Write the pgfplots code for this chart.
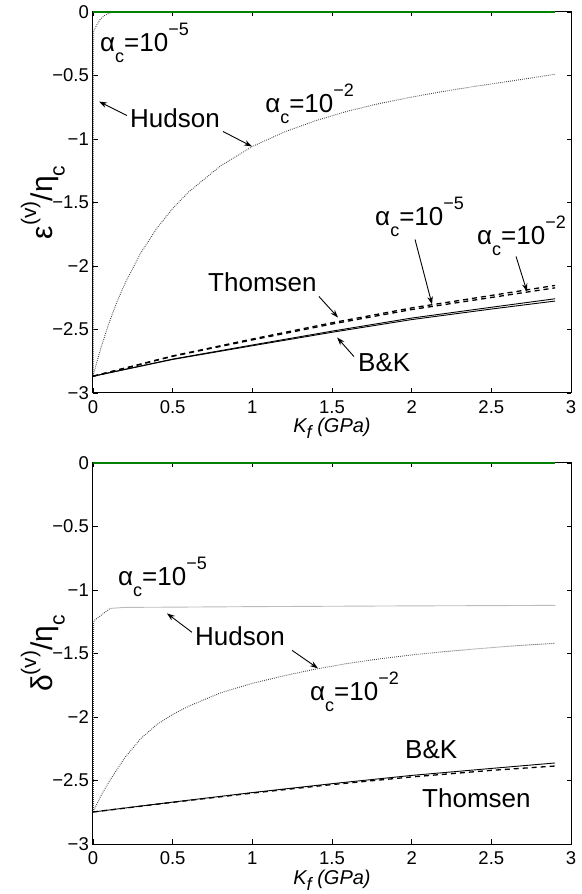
\documentclass[border=0pt]{standalone}
\usepackage{pgfplots}
\pgfplotsset{compat=1.18}
\usetikzlibrary{arrows.meta}
\usepackage{fontspec}
\setmainfont{Liberation Sans}

\newcommand\sm{\fontsize{18}{18}\selectfont}
\newcommand\smy{\fontsize{21}{21}\selectfont}
\newcommand\lab{\fontsize{26}{28}\selectfont}
\newcommand\alc[1]{α\raisebox{-0.42em}{\sm c}=10\raisebox{0.62em}{\sm −#1}}

\definecolor{mgreen}{rgb}{0,0.5,0}

\tikzset{
 hud/.style={black!75, line width=0.9pt, dash pattern=on 0.8pt off 1.2pt},
 thom/.style={black, line width=1.3pt, dash pattern=on 5pt off 4pt},
 bk/.style={black, line width=0.9pt},
 zer/.style={mgreen, line width=1.1pt},
 arr/.style={-{Stealth[length=8pt,width=5.5pt]}, line width=0.9pt},
 txt/.style={anchor=base west, font=\lab, inner sep=0pt},
}

\pgfplotsset{
 mystyle/.style={
  scale only axis, width=478pt, height=381pt,
  xmin=0,xmax=3,ymin=-3,ymax=0,
  xtick={0,0.5,1,1.5,2,2.5,3}, xticklabels={0,0.5,1,1.5,2,2.5,3},
  ytick={-3,-2.5,-2,-1.5,-1,-0.5,0}, yticklabels={−3,−2.5,−2,−1.5,−1,−0.5,0},
  tick align=inside, major tick length=4.5pt, tick style={black, line width=0.7pt},
  axis line style={line width=1pt},
  xticklabel style={font=\fontsize{18.5}{18.5}\selectfont, inner sep=0pt, anchor=north, yshift=-7.5pt},
  yticklabel style={font=\fontsize{18.5}{18.5}\selectfont, inner sep=0pt, anchor=east, xshift=-4pt},
  xlabel style={at={(axis description cs:0.5,0)}, anchor=base, yshift=-40pt, font=\fontsize{20}{20}\selectfont},
  ylabel style={at={(axis description cs:-0.105,0.5)}, anchor=center, font=\fontsize{30}{30}\selectfont},
  xlabel={\textit{K\raisebox{-0.3em}{\sm f} (GPa)}},
  clip=false,
 },
}

\begin{document}
\begin{tikzpicture}
\path[use as bounding box] (0,0) rectangle (581pt,894pt);

% ---------------- top axis ----------------
\begin{axis}[mystyle, at={(93pt,501pt)}, anchor=south west,
  ylabel={ε\raisebox{0.55em}{\smy (v)}/η\raisebox{-0.4em}{\smy c}}]
% Hudson alpha=1e-5
\addplot[hud] coordinates {(0.002,-2.868) (0.002,-1.5) (0.002,-0.6) (0.003,-0.3) (0.004,-0.15) (0.02,-0.11) (0.044,-0.06) (0.07,-0.03) (0.1,-0.01) (0.13,-0.002) (0.2,0) (0.5,0) (1,0) (1.5,0) (2,0) (2.5,0) (2.9,0)};
% Hudson alpha=1e-2
\addplot[hud] coordinates {(0,-2.868) (0.025,-2.752) (0.05,-2.644) (0.1,-2.451) (0.15,-2.284) (0.2,-2.139) (0.3,-1.897) (0.4,-1.704) (0.5,-1.547) (0.6,-1.417) (0.8,-1.212) (1.0,-1.059) (1.2,-0.945) (1.4,-0.855) (1.6,-0.78) (1.8,-0.72) (2.0,-0.67) (2.2,-0.625) (2.4,-0.585) (2.6,-0.548) (2.8,-0.51) (2.9,-0.49)};
% Thomsen
\addplot[thom] coordinates {(0,-2.868) (0.5,-2.708) (1.0,-2.575) (1.5,-2.447) (2.0,-2.33) (2.5,-2.232) (2.9,-2.153)};
\addplot[thom] coordinates {(0,-2.868) (0.5,-2.711) (1.0,-2.582) (1.5,-2.457) (2.0,-2.343) (2.5,-2.248) (2.9,-2.172)};
% B&K
\addplot[bk] coordinates {(0,-2.868) (0.5,-2.733) (1.0,-2.622) (1.5,-2.513) (2.0,-2.41) (2.5,-2.325) (2.9,-2.258)};
\addplot[bk] coordinates {(0,-2.868) (0.5,-2.736) (1.0,-2.628) (1.5,-2.522) (2.0,-2.422) (2.5,-2.339) (2.9,-2.276)};
% zero line
\addplot[zer] coordinates {(0,0) (2.9,0)};

\node[txt] at (axis cs:0.044,-0.311) {\alc{5}};
\node[txt] at (axis cs:0.232,-0.909) {Hudson};
\draw[arr] (axis cs:0.213,-0.815) -- (axis cs:0.038,-0.705);
\draw[arr] (axis cs:0.816,-0.941) -- (axis cs:0.998,-1.059);
\node[txt] at (axis cs:1.08,-0.792) {\alc{2}};
\node[txt] at (axis cs:1.77,-1.681) {\alc{5}};
\draw[arr] (axis cs:2.021,-1.791) -- (axis cs:2.128,-2.303);
\node[txt] at (axis cs:2.41,-1.831) {\alc{2}};
\draw[arr] (axis cs:2.655,-1.925) -- (axis cs:2.724,-2.201);
\node[txt] at (axis cs:0.722,-2.198) {Thomsen};
\draw[arr] (axis cs:1.418,-2.24) -- (axis cs:1.538,-2.406);
\node[txt] at (axis cs:1.663,-2.828) {B\&K};
\draw[arr] (axis cs:1.638,-2.713) -- (axis cs:1.532,-2.563);
\end{axis}

% ---------------- bottom axis ----------------
\begin{axis}[mystyle, at={(93pt,50pt)}, anchor=south west,
  ylabel={δ\raisebox{0.55em}{\smy (v)}/η\raisebox{-0.4em}{\smy c}}]
% Hudson alpha=1e-5
\addplot[hud] coordinates {(0.002,-2.748) (0.002,-2.0) (0.002,-1.5) (0.004,-1.26) (0.008,-1.24) (0.05,-1.2) (0.107,-1.145) (0.2,-1.137) (0.5,-1.135) (1,-1.131) (1.5,-1.128) (2,-1.125) (2.5,-1.123) (2.9,-1.121)};
% Hudson alpha=1e-2
\addplot[hud] coordinates {(0,-2.748) (0.05,-2.62) (0.1,-2.511) (0.2,-2.32) (0.3,-2.17) (0.4,-2.06) (0.5,-1.98) (0.6,-1.915) (0.8,-1.81) (1.0,-1.735) (1.2,-1.675) (1.4,-1.622) (1.6,-1.578) (1.8,-1.542) (2.0,-1.511) (2.2,-1.486) (2.4,-1.464) (2.6,-1.444) (2.8,-1.427) (2.9,-1.42)};
% Thomsen
\addplot[thom] coordinates {(0,-2.748) (0.5,-2.672) (1.0,-2.599) (1.5,-2.532) (2.0,-2.472) (2.5,-2.42) (2.9,-2.386)};
% B&K
\addplot[bk] coordinates {(0,-2.748) (0.5,-2.67) (1.0,-2.595) (1.5,-2.525) (2.0,-2.46) (2.5,-2.405) (2.9,-2.362)};
% zero line
\addplot[zer] coordinates {(0,0) (2.9,0)};

\node[txt] at (axis cs:0.157,-0.963) {\alc{5}};
\node[txt] at (axis cs:0.64,-1.435) {Hudson};
\draw[arr] (axis cs:0.621,-1.333) -- (axis cs:0.464,-1.184);
\draw[arr] (axis cs:1.249,-1.475) -- (axis cs:1.412,-1.617);
\node[txt] at (axis cs:1.362,-1.869) {\alc{2}};
\node[txt] at (axis cs:1.958,-2.328) {B\&K};
\node[txt] at (axis cs:2.065,-2.709) {Thomsen};
\end{axis}
\end{tikzpicture}
\end{document}
